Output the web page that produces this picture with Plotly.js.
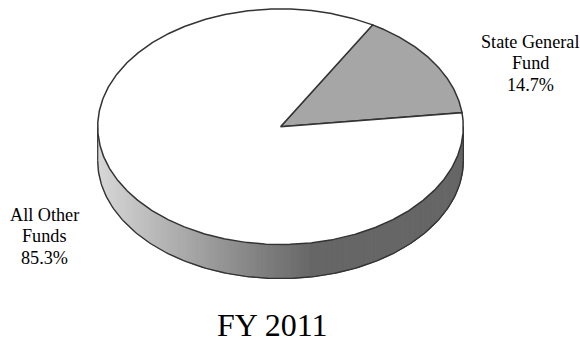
<!DOCTYPE html>
<html>
<head>
<meta charset="utf-8">
<script src="https://cdn.plot.ly/plotly-3.0.1.min.js"></script>
<style>html,body{margin:0;padding:0;background:#fff}#chart{width:580px;height:343px}</style>
</head>
<body>
<div id="chart"></div>
<script>
// Funding shares for the fiscal year
const chartTitle = 'FY 2011';
const categories = ['State General Fund', 'All Other Funds'];
const shares = [14.7, 85.3];
const sliceColors = ['#a6a6a6', '#ffffff'];
const labelLines = [['State General', 'Fund'], ['All Other', 'Funds']];
const labelCenters = [[530, 41.5], [44, 214.5]];

// Tilted disc geometry, in axis units (the axes map 1:1 to the page)
const cx = 280.5, cy = 126.7, rx = 182.8, ry = 117.8, depth = 34;
const firstAngle = 6.85;
const lineHeight = 21.6;
const edge = '#333333';

const rad = d => d * Math.PI / 180;
const px = a => cx + rx * Math.cos(rad(a));
const py = a => cy - ry * Math.sin(rad(a));

function arc(a0, a1, step) {
  const n = Math.max(2, Math.ceil(Math.abs(a1 - a0) / step));
  const out = [];
  for (let i = 0; i <= n; i++) out.push(a0 + (a1 - a0) * i / n);
  return out;
}

// Shade of the wall at a horizontal position: light on the left, flat dark on the right
const wallStops = [[97, 216], [180, 172], [250, 134], [313, 102], [464, 102]];
function wallShade(x) {
  for (let i = 1; i < wallStops.length; i++) {
    if (x <= wallStops[i][0]) {
      const [x0, v0] = wallStops[i - 1], [x1, v1] = wallStops[i];
      const v = Math.round(v0 + (v1 - v0) * Math.max(0, x - x0) / (x1 - x0));
      return `rgb(${v},${v},${v})`;
    }
  }
  return 'rgb(102,102,102)';
}

const traces = [];

// Side wall: thin vertical bands along the front half of the rim
const wallAngles = arc(180, 360, 1.2);
for (let i = 0; i < wallAngles.length - 1; i++) {
  const a = wallAngles[i], b = wallAngles[i + 1];
  const c = wallShade((px(a) + px(b)) / 2);
  traces.push({
    type: 'scatter', mode: 'lines', fill: 'toself', fillcolor: c,
    line: {color: c, width: 1},
    x: [px(a), px(b), px(b), px(a), px(a)],
    y: [py(a), py(b), py(b) + depth, py(a) + depth, py(a)],
    hoverinfo: 'skip', showlegend: false
  });
}

// Wall outline: left side, lower rim, right side
const rim = arc(180, 360, 1);
traces.push({
  type: 'scatter', mode: 'lines', line: {color: edge, width: 1.4},
  x: rim.map(px), y: rim.map(a => py(a) + depth),
  hoverinfo: 'skip', showlegend: false
});
[180, 360].forEach(a => traces.push({
  type: 'scatter', mode: 'lines', line: {color: edge, width: 1.2},
  x: [px(a), px(a)], y: [py(a), py(a) + depth],
  hoverinfo: 'skip', showlegend: false
}));

// Top face: one wedge per category, swept in proportion to its share
let start = firstAngle;
shares.forEach((share, i) => {
  const end = start + share / 100 * 360;
  const pts = arc(start, end, 0.5);
  traces.push({
    type: 'scatter', mode: 'lines', fill: 'toself', fillcolor: sliceColors[i],
    line: {color: edge, width: 1.5},
    x: [cx, ...pts.map(px), cx], y: [cy, ...pts.map(py), cy],
    name: categories[i], hoverinfo: 'skip', showlegend: false
  });
  start = end;
});

// Slice labels: name lines followed by the share
const serif = '"Liberation Serif", "Times New Roman", serif';
const annotations = [];
const addText = (text, x, y, size, yanchor) => annotations.push({
  text, x, y, xref: 'x', yref: 'y', showarrow: false,
  xanchor: 'center', yanchor, borderpad: 0, borderwidth: 0,
  font: {family: serif, size, color: '#000000'}
});
labelLines.forEach((lines, i) => {
  const [lx, ly] = labelCenters[i];
  [...lines, shares[i].toFixed(1) + '%'].forEach((t, k) => addText(t, lx, ly + k * lineHeight, 18.2, 'middle'));
});
// Caption sits on the bottom edge of the page
addText(chartTitle, 272, 342.5, 32, 'bottom');

Plotly.newPlot('chart', traces, {
  width: 580, height: 343,
  margin: {l: 0, r: 0, t: 0, b: 0},
  paper_bgcolor: '#ffffff', plot_bgcolor: '#ffffff',
  xaxis: {range: [0, 580], visible: false, fixedrange: true},
  yaxis: {range: [343, 0], visible: false, fixedrange: true},
  showlegend: false, hovermode: false, annotations
}, {displayModeBar: false, staticPlot: true});
</script>
</body>
</html>
